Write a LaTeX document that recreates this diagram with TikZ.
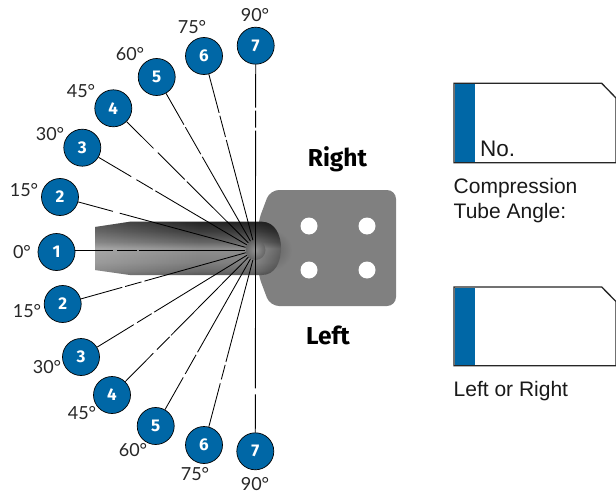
\documentclass[tikz,border=0pt]{standalone}
\usepackage{fontspec}
\setmainfont{Liberation Sans}
\newfontfamily\degfont{Lato}
\newfontfamily\numfont{Fira Sans}
\newfontfamily\headfont{Fira Sans}
\usetikzlibrary{fadings}
\definecolor{tabblue}{RGB}{0,103,166}
\definecolor{plategray}{RGB}{128,128,128}
\pgfdeclareverticalshading{tubeshade}{100bp}{
 color(0bp)=(black!66); color(25bp)=(black!66); color(29bp)=(black!58); color(37bp)=(black!50);
 color(50bp)=(black!44); color(56bp)=(black!60); color(66bp)=(black!76); color(75bp)=(black!86); color(100bp)=(black!86)}
\tikzset{
 ball/.style={circle,draw=black,line width=0.7pt,fill=tabblue,text=white,minimum size=37pt,inner sep=0pt,font=\numfont\bfseries\fontsize{17}{17}\selectfont},
 deg/.style={font=\degfont\fontsize{18}{18}\selectfont,text=black!85,inner sep=0pt},
 ray/.style={draw=black,line width=0.85pt},
 tabbox/.style={draw=black!85,line width=1.3pt,fill=white},
 caption/.style={font=\fontsize{21}{25}\selectfont,text=black!90,inner sep=0pt,anchor=west,align=left},
 head/.style={font=\headfont\bfseries\fontsize{24.5}{25}\selectfont,inner sep=0pt},
 hubnode/.style={circle,minimum size=20pt,inner sep=0pt}
}
\begin{document}
\begin{tikzpicture}[x=1pt,y=-1pt]
\useasboundingbox (0,0) rectangle (616,495);
% plate
\fill[plategray,rounded corners=9pt] (258,222) -- (270,190) -- (396,190) -- (396,306) -- (270,306) -- (258,274) -- cycle;
\begin{scope}
\clip (258,190) rectangle (396,306);
\shade[inner color=black!62,outer color=plategray] (272,250) circle (20pt);
\end{scope}
\foreach \n/\hx/\hy in {h1/309/226,h2/367/226,h3/309/270,h4/367/270}
  \node[circle,fill=white,minimum size=17pt,inner sep=0pt] (\n) at (\hx,\hy) {};
% tube
\path[shading=tubeshade,shading angle=0] (95,227) -- (130,221.7) -- (262,221.7) .. controls (275,222) and (281,235) .. (281,248) .. controls (281,262) and (275,275) .. (262,275) -- (130,275) -- (95,270) -- cycle;
\begin{scope}
\clip (95,227) -- (130,221.7) -- (262,221.7) .. controls (275,222) and (281,235) .. (281,248) .. controls (281,262) and (275,275) .. (262,275) -- (130,275) -- (95,270) -- cycle;
\fill[white,fill opacity=.22,path fading=east] (95,220) rectangle (200,277);
\fill[black,fill opacity=.35,path fading=west] (258,220) rectangle (283,277);
\shade[inner color=black!42,outer color=black!62,opacity=.9] (255.5,250) circle (10pt);
\end{scope}
% hub
\node[hubnode] (hub) at (255.5,250) {};
% upper balls
\node[ball] (a1) at (56.5,252) {1};
\node[ball] (a2) at (60,197) {2};
\node[ball] (a3) at (82.3,147.7) {3};
\node[ball] (a4) at (113.3,108.3) {4};
\node[ball] (a5) at (156.7,77) {5};
\node[ball] (a6) at (204,56) {6};
\node[ball] (a7) at (255.7,45.7) {7};
% lower balls
\node[ball] (b2) at (62.7,304) {2};
\node[ball] (b3) at (81,357) {3};
\node[ball] (b4) at (112,395) {4};
\node[ball] (b5) at (155.7,426) {5};
\node[ball] (b6) at (204,445) {6};
\node[ball] (b7) at (255.3,451.3) {7};
% rays
\draw[ray,dash pattern=on 38pt off 4pt on 20pt off 2pt on 500pt] (a1.east |- hub) -- (hub);
\draw[ray,dash pattern=on 36pt off 7pt on 500pt] (a2) -- (hub);
\draw[ray,dash pattern=on 38pt off 6pt on 19pt off 3pt on 500pt] (a3) -- (hub);
\draw[ray,dash pattern=on 38pt off 6pt on 38pt off 3pt on 500pt] (a4) -- (hub);
\draw[ray,dash pattern=on 36pt off 3pt on 31pt off 3pt on 500pt] (a5) -- (hub);
\draw[ray,dash pattern=on 40pt off 3pt on 22pt off 3pt on 500pt] (a6) -- (hub);
\draw[ray,dash pattern=on 43pt off 3pt on 17pt off 3pt on 500pt] (a7) -- (hub.center);
\draw[ray,dash pattern=on 43pt off 3pt on 17pt off 3pt on 500pt] (b2) -- (hub);
\draw[ray,dash pattern=on 43pt off 4pt on 17pt off 3pt on 500pt] (b3) -- (hub);
\draw[ray,dash pattern=on 40pt off 5pt on 18pt off 2pt on 500pt] (b4) -- (hub);
\draw[ray,dash pattern=on 37pt off 4pt on 22pt off 3pt on 500pt] (b5) -- (hub);
\draw[ray,dash pattern=on 45pt off 4pt on 15pt off 3pt on 500pt] (b6) -- (hub);
\draw[ray,dash pattern=on 38pt off 6pt on 500pt] (b7) -- (hub.center);
% degree labels
\node[deg] (d0) at (22,252) {0°};
\node[deg] (d1) at (24,190) {15°};
\node[deg] (d2) at (50,134) {30°};
\node[deg] (d3) at (81,91) {45°};
\node[deg] (d4) at (130,54) {60°};
\node[deg] (d5) at (192,27) {75°};
\node[deg] (d6) at (255,15) {90°};
\node[deg] (e1) at (27,311) {15°};
\node[deg] (e2) at (47,367) {30°};
\node[deg] (e3) at (82,413) {45°};
\node[deg] (e4) at (133,450) {60°};
\node[deg] (e5) at (195,474) {75°};
\node[deg] (e6) at (255,484) {90°};
% headings
\node[head] (right) at (337.5,159) {Right};
\node[head] (left) at (328,335.5) {Left};
% boxes
\draw[tabbox] (454,83.3) -- (601.7,83.3) -- (616,98) -- (616,162.7) -- (454,162.7) -- cycle;
\fill[tabblue] (454.6,84) rectangle (475,162);
\draw[tabbox] (454,287) -- (601.7,287) -- (616,301.5) -- (616,365.7) -- (454,365.7) -- cycle;
\fill[tabblue] (454.6,287.7) rectangle (475,365);
\node[inner sep=0pt,anchor=west,font=\fontsize{22.5}{24}\selectfont,text=black!90] (no) at (480,149) {No.};
\node[caption] (cap1) at (453.5,200.5) {Compression\\Tube Angle:};
\node[caption] (cap2) at (453.5,391) {Left or Right};
\end{tikzpicture}
\end{document}
